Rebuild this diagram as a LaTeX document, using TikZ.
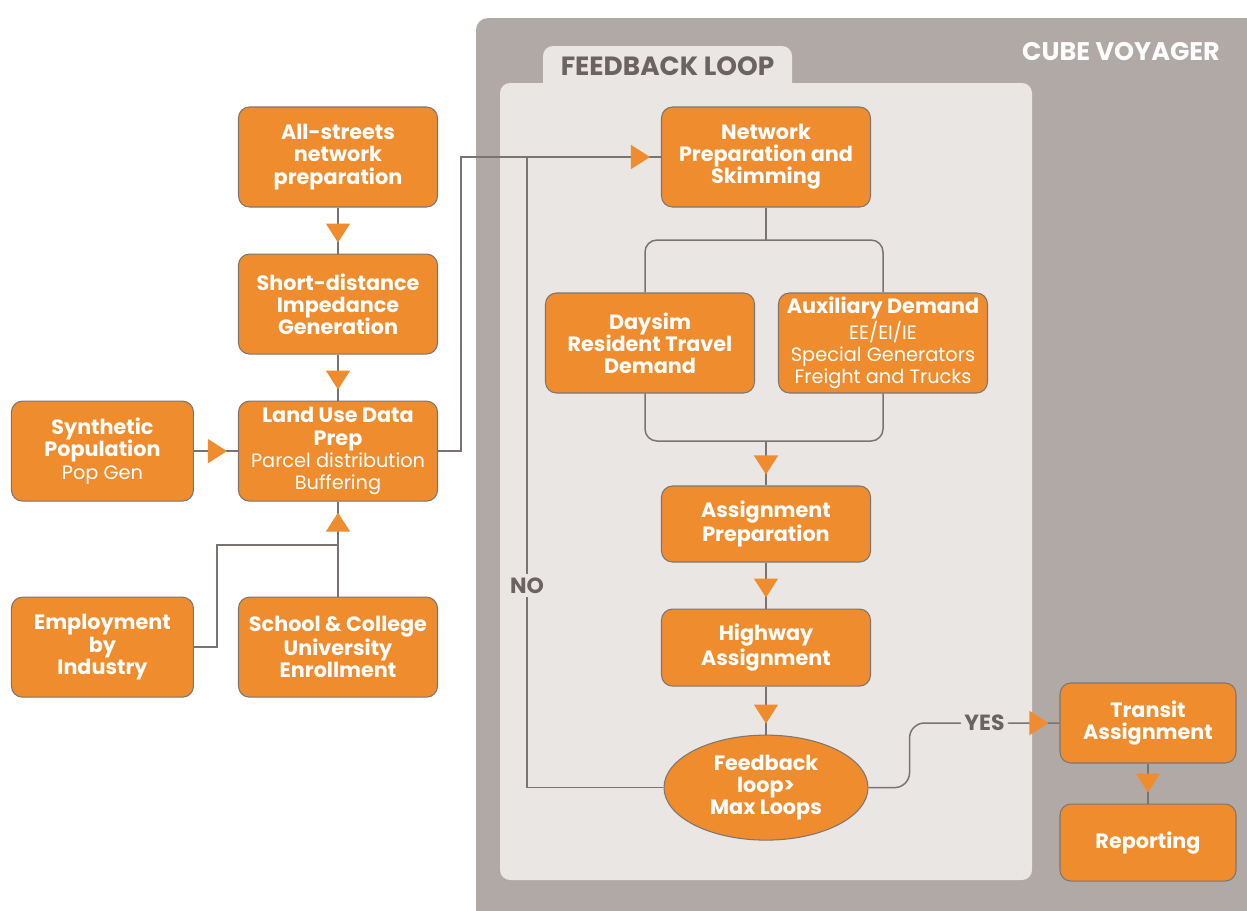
\documentclass[tikz,border=0pt]{standalone}
\usepackage{fontspec}
\setmainfont{Poppins}
\usetikzlibrary{shapes.geometric, arrows.meta, positioning, decorations.markings}

\definecolor{boxorange}{HTML}{EF8C2E}
\definecolor{boxedge}{HTML}{7D7573}
\definecolor{linegray}{HTML}{7B7371}
\definecolor{panelgray}{HTML}{B1A9A6}
\definecolor{looppanel}{HTML}{EAE6E3}
\definecolor{labelgray}{HTML}{6B6361}

\newcommand{\subline}[1]{{\fontsize{11}{12.5}\selectfont\mdseries #1}}

\begin{document}
\begin{tikzpicture}[
    node distance=0.92cm and 0.88cm,
    block/.style={rectangle, draw=boxedge, line width=0.6pt, fill=boxorange, text=white, align=center, rounded corners=0.22cm, minimum width=3.98cm, minimum height=2cm, inner sep=1pt, font=\fontsize{11.8}{12.6}\selectfont\bfseries},
    side_block/.style={block, minimum width=3.64cm},
    loop_block/.style={block, minimum width=4.18cm},
    test_block/.style={ellipse, draw=boxedge, line width=0.6pt, fill=boxorange, text=white, align=center, minimum width=4.08cm, minimum height=2.1cm, inner sep=0pt, font=\fontsize{11.8}{12.6}\selectfont\bfseries},
    line/.style={draw=linegray, line width=0.85pt},
    flow/.style={line, postaction={decorate}, decoration={markings, mark=at position -0.22cm with {\arrow{Triangle[length=0.38cm, width=0.48cm, color=boxorange, fill=boxorange]}}}},
    lbl/.style={fill=looppanel, text=labelgray, inner sep=2pt, font=\fontsize{12.5}{13}\selectfont\bfseries},
    panel_title/.style={font=\fontsize{15}{16}\selectfont\bfseries}
]
    \useasboundingbox (0,0) rectangle (24.94,-18.2);

    % Panels
    \fill[panelgray, rounded corners=0.24cm] (9.52,-0.36) rectangle (25.5,-18.8);
    \node[panel_title, text=white, font=\fontsize{14.5}{15}\selectfont\bfseries] (cube_title) at (22.42,-1.04) {CUBE VOYAGER};
    \fill[looppanel, rounded corners=0.2cm] (10.86,-0.92) rectangle (15.84,-2.2);
    \fill[looppanel, rounded corners=0.2cm] (10.0,-1.66) rectangle (20.64,-17.6);
    \node[panel_title, text=labelgray] (loop_title) at (13.35,-1.32) {FEEDBACK LOOP};

    % Land use side
    \node[block] (allstreets) at (6.76,-3.14) {All-streets\\network\\preparation};
    \node[block, below=of allstreets] (impedance) {Short-distance\\Impedance\\Generation};
    \node[block, below=of impedance] (landuse) {Land Use Data\\Prep\\\subline{Parcel distribution}\\\subline{Buffering}};
    \node[side_block, left=of landuse] (synpop) {Synthetic\\Population\\\subline{Pop Gen}};
    \node[block, below=1.9cm of landuse] (school) {School \& College\\University\\Enrollment};
    \node[side_block, left=of school] (employment) {Employment\\by\\Industry};

    % Feedback loop
    \node[loop_block] (network) at (15.32,-3.14) {Network\\Preparation and\\Skimming};
    \node[loop_block] (daysim) at (13.0,-6.86) {Daysim\\Resident Travel\\Demand};
    \node[loop_block] (auxiliary) at (17.66,-6.86) {Auxiliary Demand\\\subline{EE/EI/IE}\\\subline{Special Generators}\\\subline{Freight and Trucks}};
    \node[loop_block, minimum height=1.52cm] (assignprep) at (15.32,-10.48) {Assignment\\Preparation};
    \node[loop_block, minimum height=1.54cm, below=0.92cm of assignprep] (highway) {Highway\\Assignment};
    \node[test_block, below=0.96cm of highway] (feedback) {Feedback\\loop>\\Max Loops};

    % Outside the loop
    \node[block, minimum width=3.52cm, minimum height=1.6cm] (transit) at (22.96,-14.46) {Transit\\Assignment};
    \node[block, minimum width=3.52cm, minimum height=1.54cm, below=0.8cm of transit] (reporting) {Reporting};

    % Land use connectors
    \draw[flow] (allstreets) -- (impedance);
    \draw[flow] (impedance) -- (landuse);
    \draw[flow] (synpop) -- (landuse);
    \draw[flow] (school) -- (landuse);
    \coordinate (employ_join) at (6.76,-10.9);
    \draw[line] (employment.east) -- ++(0.46,0) |- (employ_join);
    \draw[flow] (landuse.east) -- ++(0.46,0) |- (network.west);

    % Loop connectors
    \coordinate (split) at (15.32,-4.8);
    \coordinate (merge) at (15.32,-8.82);
    \draw[line] (network) -- (split);
    \draw[line, rounded corners=0.24cm] ([xshift=-0.1cm]daysim.north) |- (split) -| (auxiliary.north);
    \draw[line, rounded corners=0.24cm] ([xshift=-0.1cm]daysim.south) |- (merge) -| (auxiliary.south);
    \draw[flow] (merge) -- (assignprep);
    \draw[flow] (assignprep) -- (highway);
    \draw[flow] (highway) -- (feedback);
    \coordinate (loop_back) at (10.54,-3.14);
    \draw[line] (feedback.west) -| node[lbl, pos=0.66] {NO} (loop_back);
    \draw[flow, rounded corners=0.3cm] (feedback.east) -- ++(0.82,0) |- node[lbl, pos=0.75] {YES} (transit.west);
    \draw[flow] (transit) -- (reporting);

\end{tikzpicture}
\end{document}
